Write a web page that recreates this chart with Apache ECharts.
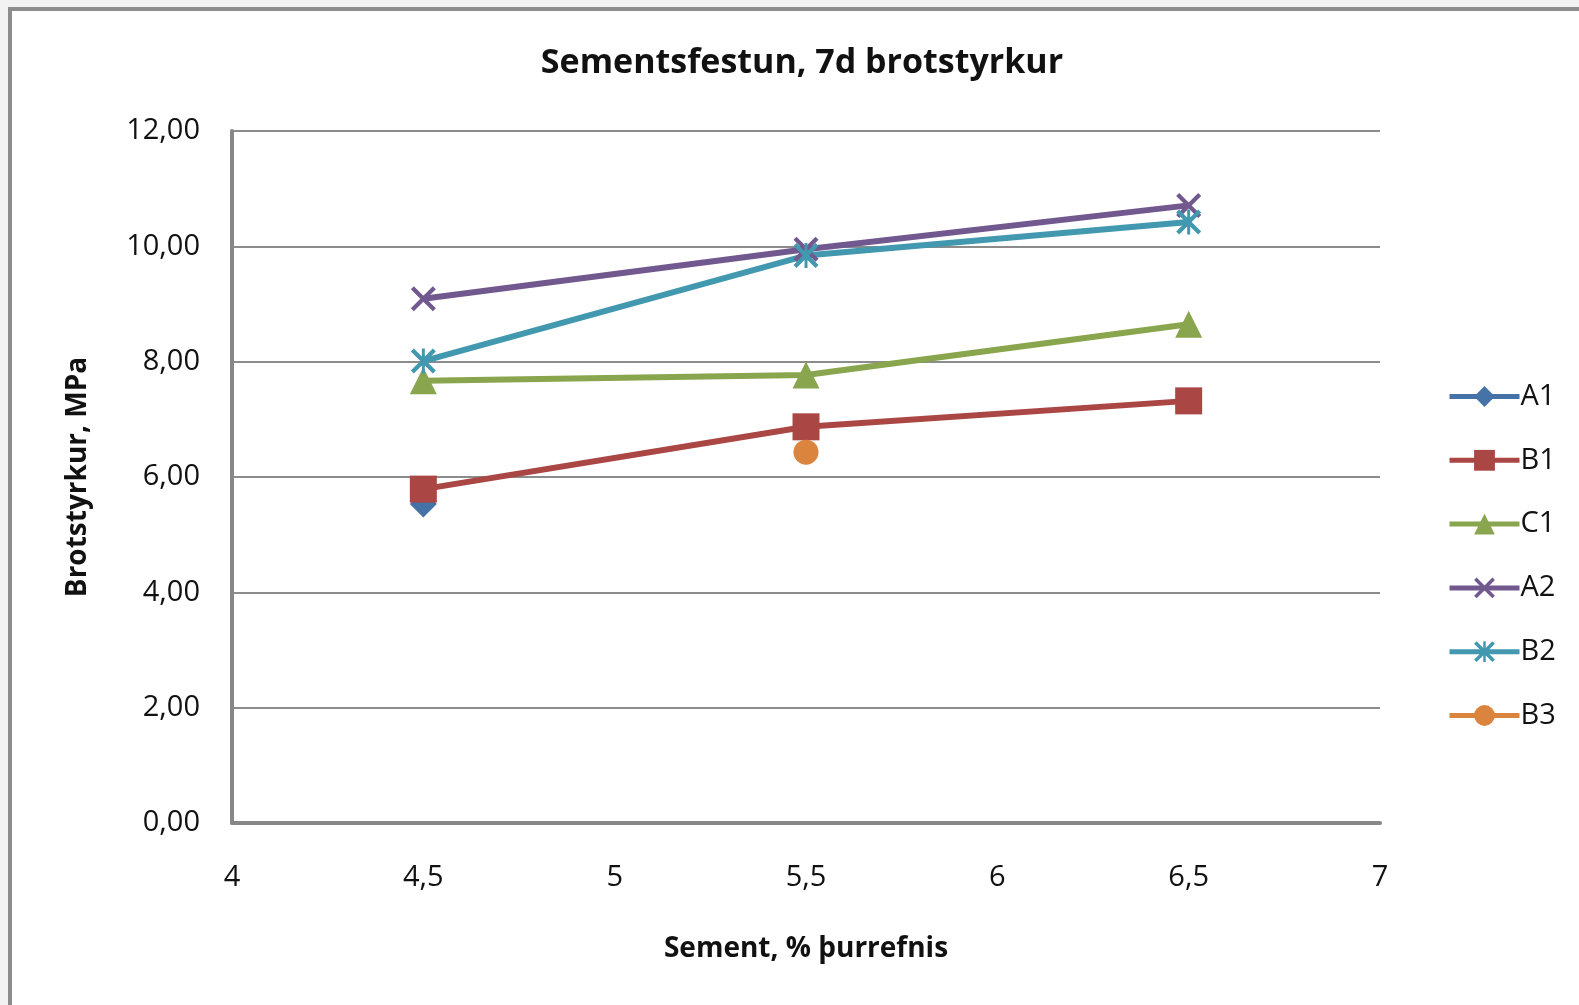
<!DOCTYPE html>
<html>
<head>
<meta charset="utf-8">
<script src="https://cdn.jsdelivr.net/npm/echarts@6/dist/echarts.min.js"></script>
<style>
  html, body { margin: 0; padding: 0; background: #f2f2f2; overflow: hidden; }
  #frame { position: absolute; left: 8px; top: 7px; right: 0; bottom: 0;
           background: #fff; border-left: 4px solid #8c8c8c; border-top: 4px solid #8c8c8c; }
  #chart { position: absolute; left: 0; top: 0; width: 1579px; height: 1005px; }
</style>
</head>
<body>
<div id="frame"></div>
<div id="chart"></div>
<script>
// sement % (x) and brotstyrkur MPa (y)
var xs = [4.5, 5.5, 6.5];
var names = ["A1", "B1", "C1", "A2", "B2", "B3"];
var colors = ["#4572A7", "#AA4643", "#89A54E", "#71588F", "#4198AF", "#DB843D"];
var a1 = [5.53, null, null];
var b1 = [5.79, 6.87, 7.32];
var c1 = [7.67, 7.77, 8.65];
var a2 = [9.09, 9.95, 10.71];
var b2 = [8.01, 9.84, 10.42];
var b3 = [null, 6.43, null];
var yTicks = [0, 2, 4, 6, 8, 10, 12];

var crossPath = "path://M0,2.4 L2.4,0 L10,7.6 L17.6,0 L20,2.4 L12.4,10 L20,17.6 L17.6,20 L10,12.4 L2.4,20 L0,17.6 L7.6,10 Z";
var starPath = "path://M0,2.4 L2.4,0 L10,7.6 L17.6,0 L20,2.4 L12.4,10 L20,17.6 L17.6,20 L10,12.4 L2.4,20 L0,17.6 L7.6,10 Z M8.8,0 L11.2,0 L11.2,20 L8.8,20 Z";
var symbols = ["diamond", "rect", "triangle", crossPath, starPath, "circle"];
var values = [a1, b1, c1, a2, b2, b3];

var font = "'Open Sans', 'Noto Sans', sans-serif";

var series = names.map(function (n, i) {
  return {
    name: n,
    type: "line",
    data: xs.map(function (x, j) { return [x, values[i][j]]; }),
    symbol: symbols[i],
    symbolSize: i >= 3 ? 25 : 27,
    showSymbol: true,
    connectNulls: false,
    lineStyle: { width: 6, color: colors[i] },
    itemStyle: { color: colors[i] },
    emphasis: { disabled: true }
  };
});

var charts = echarts.init(document.getElementById("chart"));
charts.setOption({
  backgroundColor: "transparent",
  animation: false,
  title: {
    text: "Sementsfestun, 7d brotstyrkur",
    left: 797, top: 41, textAlign: "center",
    textStyle: { fontFamily: font, fontSize: 34, fontWeight: "bold", color: "#111" }
  },
  grid: { left: 232, top: 131, right: 199, bottom: 182 },
  xAxis: {
    type: "value", min: 4, max: 7, interval: 0.5,
    name: "Sement, % þurrefnis", nameLocation: "middle", nameGap: 112,
    nameTextStyle: { fontFamily: font, fontSize: 28, fontWeight: "bold", color: "#111" },
    axisLine: { lineStyle: { color: "#878787", width: 4 } },
    axisTick: { show: false },
    splitLine: { show: false },
    axisLabel: {
      margin: 40, fontFamily: font, fontSize: 29, color: "#111",
      formatter: function (v) { return String(v).replace(".", ","); }
    }
  },
  yAxis: {
    type: "value", min: yTicks[0], max: yTicks[yTicks.length - 1], interval: 2,
    name: "Brotstyrkur, MPa", nameLocation: "middle", nameGap: 140,
    nameTextStyle: { fontFamily: font, fontSize: 28, fontWeight: "bold", color: "#111" },
    axisLine: { show: true, lineStyle: { color: "#878787", width: 4 } },
    axisTick: { show: false },
    splitLine: { lineStyle: { color: "#8c8c8c", width: 2 } },
    axisLabel: {
      margin: 32, fontFamily: font, fontSize: 29, color: "#111",
      formatter: function (v) { return v.toFixed(2).replace(".", ","); }
    }
  },
  legend: {
    orient: "vertical", left: 1442, top: 377,
    itemWidth: 70, itemHeight: 26, itemGap: 37.4 - 2.6,
    data: names,
    lineStyle: { width: 5 },
    textStyle: { fontFamily: font, fontSize: 29, lineHeight: 26, color: "#111", padding: [0, 0, 0, -4] }
  },
  series: series
});
window.addEventListener("resize", function () { charts.resize(); });
</script>
</body>
</html>
